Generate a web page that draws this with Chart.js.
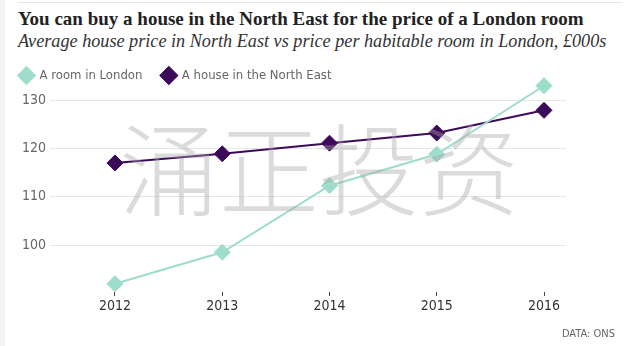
<!DOCTYPE html>
<html>
<head>
<meta charset="utf-8">
<script src="https://cdn.jsdelivr.net/npm/chart.js@4"></script>
<style>
  html, body { margin: 0; padding: 0; }
  body { width: 640px; height: 346px; position: relative; background: #fff; overflow: hidden; }
  .edge { position: absolute; left: 0; top: 0; width: 5px; height: 346px; background: #f5f5f3; }
  .rule { position: absolute; left: 18px; top: 2px; width: 604px; height: 1px; background: #e4e4e4; }
  .title { position: absolute; left: 18px; top: 8px; font: bold 19px 'Liberation Serif', serif; color: #222; white-space: nowrap; }
  .sub { position: absolute; left: 18px; top: 31px; font: italic 18.2px 'Liberation Serif', serif; color: #333; white-space: nowrap; }
  .source { position: absolute; right: 25px; top: 327px; font: 11px 'DejaVu Sans Condensed', sans-serif; color: #666; }
  .wrap { position: absolute; left: 0; top: 49px; width: 640px; height: 297px; }
</style>
</head>
<body>
<div class="edge"></div>
<div class="rule"></div>
<div class="title">You can buy a house in the North East for the price of a London room</div>
<div class="sub">Average house price in North East vs price per habitable room in London, £000s</div>
<div class="wrap"><canvas id="myChart"></canvas></div>
<div class="source">DATA: ONS</div>
<script>
// values, £000s
var years = [2012, 2013, 2014, 2015, 2016];
var londonRoom = [92, 98.5, 112.3, 118.8, 133];
var northEastHouse = [117, 118.9, 121.1, 123.2, 127.9];
var yTicks = [100, 110, 120, 130];

var axisFont = "'DejaVu Sans Condensed', sans-serif";

function pairs(vals) {
  return years.map(function (y, i) { return {x: y, y: vals[i]}; });
}

// semi-transparent watermark laid over the lines
var watermark = {
  id: 'watermark',
  afterDatasetsDraw: function (chart) {
    var c = chart.ctx;
    c.save();
    c.font = "200 100px 'Noto Sans CJK SC', sans-serif";
    c.fillStyle = 'rgba(165,165,165,0.4)';
    c.textAlign = 'center';
    c.textBaseline = 'middle';
    c.fillText('涌正投资', 319, 121);
    c.restore();
  }
};

var ctx = document.getElementById('myChart');
var myChart = new Chart(ctx, {
  type: 'line',
  data: {
    datasets: [{
      label: 'A room in London',
      data: pairs(londonRoom),
      borderColor: '#9edccb',
      backgroundColor: '#9edccb',
      borderWidth: 2,
      pointStyle: 'rectRot',
      pointRadius: 8,
      pointBorderWidth: 1,
      tension: 0,
      clip: false
    }, {
      label: 'A house in the North East',
      data: pairs(northEastHouse),
      borderColor: '#3d0a5a',
      backgroundColor: '#3d0a5a',
      borderWidth: 2,
      pointStyle: 'rectRot',
      pointRadius: 8,
      pointBorderWidth: 1,
      tension: 0,
      clip: false
    }]
  },
  options: {
    responsive: true,
    maintainAspectRatio: false,
    animation: false,
    layout: { padding: { top: 0, right: 74, bottom: 30, left: 0 } },
    plugins: {
      tooltip: { enabled: false },
      legend: {
        position: 'top',
        align: 'start',
        labels: {
          usePointStyle: true,
          pointStyle: 'rectRot',
          boxWidth: 13,
          boxHeight: 13,
          padding: 20,
          color: '#666',
          font: { family: axisFont, size: 13 }
        }
      }
    },
    scales: {
      x: {
        type: 'linear',
        min: 2011.394,
        max: 2016.205,
        afterBuildTicks: function (s) { s.ticks = years.map(function (v) { return {value: v}; }); },
        afterFit: function (s) { s.height = 24; },
        grid: { drawOnChartArea: false, drawTicks: true, tickLength: 4, tickColor: '#444' },
        border: { display: false },
        ticks: {
          padding: 2,
          color: '#333',
          font: { family: axisFont, size: 14 },
          callback: function (v) { return String(v); }
        }
      },
      y: {
        min: 90.28,
        max: 131.7,
        afterBuildTicks: function (s) { s.ticks = yTicks.map(function (v) { return {value: v}; }); },
        afterFit: function (s) { s.width = 50; },
        grid: { color: '#e6e6e6', drawTicks: false },
        border: { display: false },
        ticks: {
          padding: 4,
          color: '#666',
          font: { family: axisFont, size: 14 }
        }
      }
    }
  },
  plugins: [watermark]
});
</script>
</body>
</html>
